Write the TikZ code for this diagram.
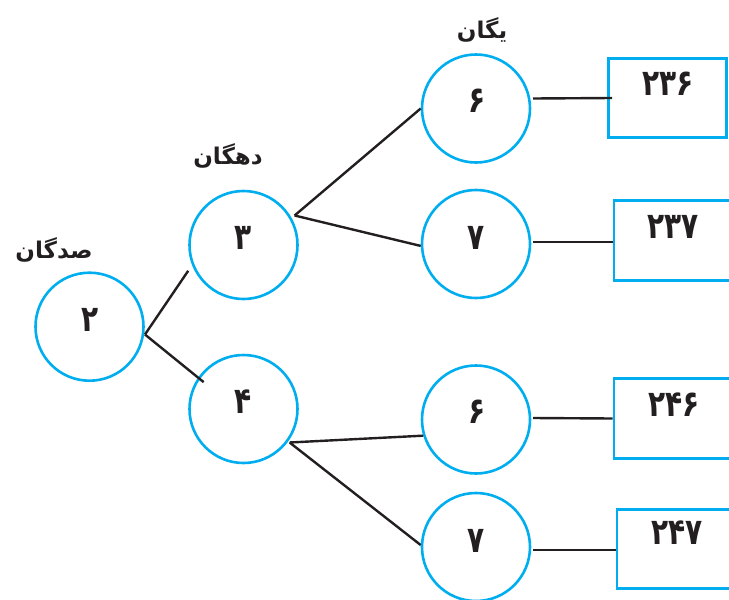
\documentclass[tikz,border=0pt]{standalone}
\usepackage{fontspec}
\usetikzlibrary{calc}
\newfontfamily\arabicfont[Script=Arabic]{DejaVu Sans}
\TeXXeTstate=1
\definecolor{cyanline}{RGB}{0,174,239}
\definecolor{inkline}{RGB}{35,31,32}
\newcommand{\tallnum}[1]{\scalebox{1}[1.3]{#1}}
\tikzset{
  digitcircle/.style={circle, draw=cyanline, line width=2.6pt, minimum size=108pt, inner sep=0pt},
  resultbox/.style={rectangle, draw=cyanline, line width=2.6pt, inner sep=0pt},
  boxtext/.style={font=\arabicfont\bfseries\fontsize{28}{32}\selectfont, text=inkline, inner sep=0pt},
  placelabel/.style={font=\arabicfont\bfseries\fontsize{23}{26}\selectfont, text=inkline, inner sep=0pt},
  conn/.style={draw=inkline, line width=2.4pt}
}
\begin{document}
\begin{tikzpicture}[x=1pt,y=-1pt]
\useasboundingbox (0,0) rectangle (729,600);
% circles
\node[digitcircle] (c2) at (89.5,326.7) {};
\node[digitcircle] (c3) at (243.5,245) {};
\node[digitcircle] (c4) at (243.5,409) {};
\node[digitcircle] (c6a) at (476,108.5) {};
\node[digitcircle] (c7a) at (476,244) {};
\node[digitcircle] (c6b) at (476,419.5) {};
\node[digitcircle] (c7b) at (476,547) {};
% digits
\node[boxtext] (d2) at (90,320) {\tallnum{۲}};
\node[boxtext] (d3) at (243.5,238) {\tallnum{۳}};
\node[boxtext] (d4) at (243.5,402) {\tallnum{۴}};
\node[boxtext] (d6a) at (477,101) {\tallnum{۶}};
\node[boxtext] (d7a) at (476,238) {\tallnum{۷}};
\node[boxtext] (d6b) at (477,412) {\tallnum{۶}};
\node[boxtext] (d7b) at (476,541) {\tallnum{۷}};
% boxes
\node[resultbox, minimum width=118pt, minimum height=79pt] (b236) at (667.5,98) {};
\node[resultbox, minimum width=122pt, minimum height=80pt] (b237) at (675,240.5) {};
\node[resultbox, minimum width=122pt, minimum height=80pt] (b246) at (675,418.5) {};
\node[resultbox, minimum width=119pt, minimum height=79pt] (b247) at (676.5,549) {};
\node[boxtext] (t236) at (668,84) {\tallnum{۲۳۶}};
\node[boxtext] (t237) at (673,227) {\tallnum{۲۳۷}};
\node[boxtext] (t246) at (674,405) {\tallnum{۲۴۶}};
\node[boxtext] (t247) at (677,533) {\tallnum{۲۴۷}};
% labels
\node[placelabel] (lsad) at (54,250) {\beginR صدگان\endR};
\node[placelabel] (ldah) at (228,156) {\beginR دهگان\endR};
\node[placelabel] (lyek) at (482,30) {\beginR یگان\endR};
% connectors
\coordinate (j2) at ($(c2.center)+(-8:56pt)$);
\coordinate (j3) at ($(c3.center)+(30:59pt)$);
\coordinate (j4) at ($(c4.center)+(-36:57pt)$);
\draw[conn] (j2) -- ($(c3.center)+(205:61pt)$);
\draw[conn] (j2) -- ($(c4.center)+(146:48pt)$);
\draw[conn] (j3) -- (c6a.180);
\draw[conn] (j3) -- (c7a.182);
\draw[conn] (j4) -- (c6b.197);
\draw[conn] (j4) -- (c7b.178);
\draw[conn] ($(c6a.center)+(57,-10)$) -- ($(b236.west)+(5,0)$);
\draw[conn] ($(c7a.center)+(57,-2)$) -- ($(b237.west)+(0,1.5)$);
\draw[conn] ($(c6b.center)+(57,-1.5)$) -- (b246.west);
\draw[conn] ($(c7b.center)+(57,3)$) -- ($(b247.west)+(0,1)$);
\end{tikzpicture}
\end{document}
